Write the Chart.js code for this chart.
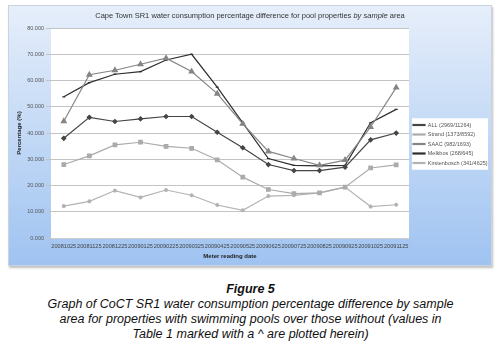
<!DOCTYPE html>
<html>
<head>
<meta charset="utf-8">
<script src="https://cdn.jsdelivr.net/npm/chart.js@4"></script>
<style>
  body { margin: 0; background: #fff; width: 501px; height: 345px; position: relative; overflow: hidden; font-family: "Liberation Sans", Arial, sans-serif; }
  #panel { position: absolute; left: 8px; top: 5px; width: 484px; height: 261px;
    background: linear-gradient(to bottom, #e6eefa 0%, #c6dbf6 45%, #9fc3f1 100%);
    border: 1px solid #c9d4e0; box-shadow: 1px 2px 2px rgba(0,0,0,0.25); box-sizing: border-box; }
  #title { position: absolute; left: 0; right: 0; top: 5px; text-align: center; font-size: 7.5px; color: #333; }
  #chart { position: absolute; left: 0; top: 0; }
  #caption { position: absolute; left: 0; width: 501px; top: 282px; text-align: center; font-style: italic; font-size: 12.5px; line-height: 15px; color: #111; }
</style>
</head>
<body>
<div id="panel">
  <canvas id="chart" width="484" height="261"></canvas>
  <div id="title">Cape Town SR1 water consumption percentage difference for pool properties <i>by sample</i> area</div>
</div>
<div id="caption"><b>Figure 5</b><br>Graph of CoCT SR1 water consumption percentage difference by sample<br>area for properties with swimming pools over those without (values in<br>Table 1 marked with a ^ are plotted herein)</div>
<script>
// meter reading dates
const dates = ['20081025', '20081125', '20081225', '20090125', '20090225', '20090325', '20090425',
  '20090525', '20090625', '20090725', '20090825', '20090925', '20091025', '20091125'];

// percentage difference per sample area
const all = [38.0, 46.0, 44.4, 45.4, 46.3, 46.3, 40.3, 34.4, 28.0, 25.7, 25.7, 27.0, 37.4, 40.0];
const strand = [28.0, 31.3, 35.5, 36.5, 34.9, 34.2, 29.8, 23.2, 18.5, 16.9, 17.2, 19.4, 26.7, 27.9];
const saac = [44.5, 62.2, 63.9, 66.2, 68.5, 63.4, 55.0, 43.5, 33.0, 30.3, 27.7, 29.7, 42.3, 57.3];
const melkbos = [53.8, 59.2, 62.4, 63.4, 67.8, 70.0, 57.5, 43.9, 30.3, 27.7, 27.5, 27.7, 43.9, 49.0];
const kirstenbosch = [12.2, 14.0, 18.1, 15.5, 18.3, 16.3, 12.6, 10.6, 16.0, 16.3, 17.2, 19.4, 12.0, 12.7];

const seriesNames = ['ALL (2969/11264)', 'Strand (1373/8592)', 'SAAC (982/1693)', 'Melkbos (268/645)', 'Kirstenbosch (341/4625)'];

// white plot area + white box behind the legend, legend kept at a fixed width
const chartDeco = {
  id: 'chartDeco',
  afterInit(chart) {
    const lg = chart.legend;
    const fit = lg.fit.bind(lg);
    lg.fit = function () { fit(); this.width = 84; };
  },
  beforeDraw(chart) {
    const { ctx, chartArea: a } = chart;
    ctx.save();
    ctx.fillStyle = '#fff';
    ctx.fillRect(a.left, a.top, a.right - a.left, a.bottom - a.top);
    const boxes = chart.legend.legendHitBoxes;
    if (boxes && boxes.length) {
      let l = Infinity, t = Infinity, b = -Infinity;
      boxes.forEach(h => { l = Math.min(l, h.left); t = Math.min(t, h.top); b = Math.max(b, h.top + h.height); });
      ctx.fillRect(l - 1, t - 4, 76, b - t + 8);
    }
    ctx.restore();
  }
};

function ds(label, data, color, style, radius) {
  return {
    label: label, data: data,
    borderColor: color, backgroundColor: color,
    pointBackgroundColor: color, pointBorderColor: color,
    pointStyle: style, pointRadius: radius, borderWidth: 1.2,
    tension: 0
  };
}

new Chart(document.getElementById('chart'), {
  type: 'line',
  data: {
    labels: dates,
    datasets: [
      ds(seriesNames[0], all, '#454545', 'rectRot', 2),
      ds(seriesNames[1], strand, '#ababab', 'rect', 2.5),
      ds(seriesNames[2], saac, '#858585', 'triangle', 2.8),
      ds(seriesNames[3], melkbos, '#2e2e2e', 'line', 1.5),
      ds(seriesNames[4], kirstenbosch, '#b3b3b3', 'star', 2)
    ]
  },
  options: {
    responsive: false,
    animation: false,
    layout: { padding: { top: 22, bottom: 7, right: 0, left: 6 } },
    plugins: {
      legend: {
        display: true,
        position: 'right',
        labels: { boxWidth: 12, boxHeight: 1, padding: 4, color: '#555', font: { size: 5.5, family: 'Liberation Sans' } }
      },
      title: { display: false },
      tooltip: { enabled: false }
    },
    scales: {
      x: {
        offset: true,
        grid: { display: true, drawOnChartArea: false, color: '#bbb', tickLength: 3, offset: true },
        border: { color: '#ccc' },
        ticks: { autoSkip: false, maxRotation: 0, minRotation: 0, padding: 2, color: '#444', font: { size: 5.6, family: 'Liberation Sans' } },
        title: { display: true, text: 'Meter reading date', color: '#222', padding: { top: 1, bottom: 0 }, font: { size: 6, weight: 'bold', family: 'Liberation Sans' } }
      },
      y: {
        min: 0, max: 80,
        afterFit: s => { s.width = 36; },
        ticks: { stepSize: 10, padding: 2, color: '#555', font: { size: 5.5, family: 'Liberation Sans' }, callback: v => v.toFixed(3) },
        grid: { color: '#c4c4c4', tickLength: 5 },
        border: { display: false },
        title: { display: true, text: 'Percentage (%)', color: '#222', padding: { top: 1, bottom: 0 }, font: { size: 6, weight: 'bold', family: 'Liberation Sans' } }
      }
    }
  },
  plugins: [chartDeco]
});
</script>
</body>
</html>
